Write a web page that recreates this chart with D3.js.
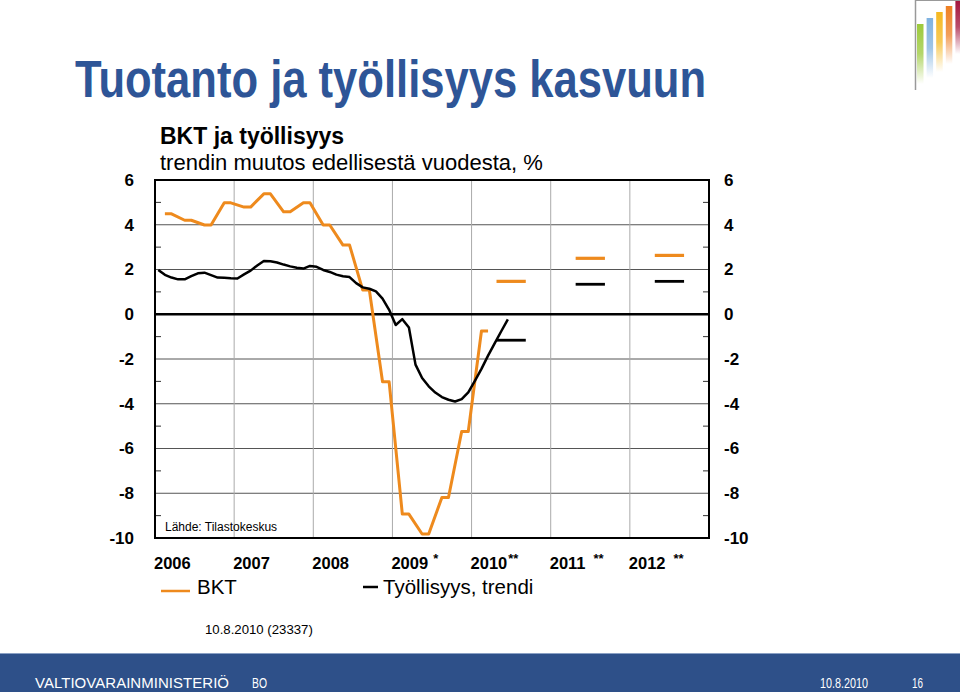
<!DOCTYPE html>
<html>
<head>
<meta charset="utf-8">
<script src="https://cdn.jsdelivr.net/npm/d3@7"></script>
<style>
  html, body { margin: 0; padding: 0; background: #fff; }
  svg { display: block; font-family: "Liberation Sans", Arial, sans-serif; }
</style>
</head>
<body>
<svg id="chart" width="960" height="692"></svg>
<script>
// ---------------- data ----------------
const yearLabels = ["2006", "2007", "2008", "2009", "2010", "2011", "2012"];
const yearMarks  = ["", "", "", "*", "**", "**", "**"];
const yTicks = [6, 4, 2, 0, -2, -4, -6, -8, -10];
const minorTicks = [5, 3, 1, -1, -3, -5, -7, -9];

// BKT (GDP), quarterly, Q1/2006 ... Q1/2010
const bktQuarterly = [4.49, 4.2, 3.99, 4.98, 4.79, 5.38, 4.58, 4.98,
                      3.99, 3.09, 1.08, -3.02, -8.93, -9.82, -8.19, -5.24, -0.75];
// Työllisyys, trendi (employment trend), monthly, 1/2006 ... 6/2010
const empMonthly = [1.98, 1.76, 1.64, 1.56, 1.56, 1.70, 1.83, 1.86, 1.75, 1.64, 1.63, 1.61,
                    1.60, 1.78, 1.95, 2.18, 2.38, 2.37, 2.31, 2.22, 2.14, 2.08, 2.04, 2.16,
                    2.12, 1.98, 1.89, 1.77, 1.70, 1.66, 1.39, 1.20, 1.14, 1.02, 0.70, 0.20,
                    -0.48, -0.22, -0.59, -2.25, -2.85, -3.22, -3.50, -3.70, -3.82, -3.90, -3.79, -3.49,
                    -2.98, -2.44, -1.85, -1.30, -0.76, -0.23];
// Forecasts (annual)
const forecastYears = [2010, 2011, 2012];
const bktForecast = [1.47, 2.5, 2.63];
const empForecast = [-1.16, 1.34, 1.47];

// ---------------- layout ----------------
const svg = d3.select("#chart");
const orange = "#ee8a1d";
const pL = 155, pR = 709, pT = 180, pB = 538;

const x = d3.scaleLinear().domain([2006, 2013]).range([pL, pR]);
const y = d3.scaleLinear().domain([6, -10]).range([pT, pB]);

// Title
svg.append("text").attr("x", 75).attr("y", 97)
  .attr("font-size", 51).attr("font-weight", "bold").attr("fill", "#2e5597")
  .attr("textLength", 631).attr("lengthAdjust", "spacingAndGlyphs")
  .text("Tuotanto ja työllisyys kasvuun");

// Chart titles
svg.append("text").attr("x", 160).attr("y", 144)
  .attr("font-size", 23).attr("font-weight", "bold").attr("fill", "#000")
  .text("BKT ja työllisyys");
svg.append("text").attr("x", 160).attr("y", 170)
  .attr("font-size", 22).attr("fill", "#000")
  .text("trendin muutos edellisestä vuodesta, %");

// Gridlines horizontal
const g = svg.append("g");
g.selectAll("line.hgrid").data(yTicks.filter(v => v !== 0 && v !== 6 && v !== -10))
  .enter().append("line").attr("class", "hgrid")
  .attr("x1", pL).attr("x2", pR)
  .attr("y1", d => y(d)).attr("y2", d => y(d))
  .attr("stroke", "#555").attr("stroke-width", 1);
// Gridlines vertical (year boundaries)
g.selectAll("line.vgrid").data(d3.range(2007, 2013))
  .enter().append("line").attr("class", "vgrid")
  .attr("x1", d => x(d)).attr("x2", d => x(d))
  .attr("y1", pT).attr("y2", pB)
  .attr("stroke", "#aaa").attr("stroke-width", 1);

// Minor ticks (inward) both sides
g.selectAll("line.tl").data(minorTicks).enter().append("line")
  .attr("x1", pL).attr("x2", pL + 6)
  .attr("y1", d => y(d)).attr("y2", d => y(d))
  .attr("stroke", "#333").attr("stroke-width", 1);
g.selectAll("line.tr").data(minorTicks).enter().append("line")
  .attr("x1", pR - 6).attr("x2", pR)
  .attr("y1", d => y(d)).attr("y2", d => y(d))
  .attr("stroke", "#333").attr("stroke-width", 1);

// Zero line
g.append("line").attr("x1", pL).attr("x2", pR)
  .attr("y1", y(0)).attr("y2", y(0))
  .attr("stroke", "#000").attr("stroke-width", 2.5);

// Frame
g.append("rect").attr("x", pL).attr("y", pT)
  .attr("width", pR - pL).attr("height", pB - pT)
  .attr("fill", "none").attr("stroke", "#000").attr("stroke-width", 2);

// Y axis labels via d3 axes
const fmt = d => String(d);
const axL = d3.axisLeft(y).tickValues(yTicks).tickFormat(fmt).tickSize(0).tickPadding(0);
const gl = svg.append("g").attr("transform", `translate(134,0)`).call(axL);
gl.select(".domain").remove();
gl.selectAll("text").attr("font-size", 17).attr("font-weight", "bold")
  .attr("font-family", "Liberation Sans, Arial, sans-serif").attr("fill", "#000");

const axR = d3.axisRight(y).tickValues(yTicks).tickFormat(fmt).tickSize(0).tickPadding(0);
const gr = svg.append("g").attr("transform", `translate(724,0)`).call(axR);
gr.select(".domain").remove();
gr.selectAll("text").attr("font-size", 17).attr("font-weight", "bold")
  .attr("font-family", "Liberation Sans, Arial, sans-serif").attr("fill", "#000");

// Source
svg.append("text").attr("x", 165).attr("y", 531)
  .attr("font-size", 12).attr("fill", "#000").text("Lähde: Tilastokeskus");

// BKT line (each quarterly value spans months 2-3 of its quarter)
const bktPts = [];
bktQuarterly.forEach((v, i) => {
  bktPts.push([2006 + (3 * i + 1.5) / 12, v]);
  bktPts.push([2006 + (3 * i + 2.5) / 12, v]);
});
const line = d3.line().x(d => x(d[0])).y(d => y(d[1]));
svg.append("path").datum(bktPts).attr("d", line)
  .attr("fill", "none").attr("stroke", orange).attr("stroke-width", 3)
  .attr("stroke-linejoin", "round");

// Employment line
const empPts = empMonthly.map((v, i) => [2006 + (i + 0.5) / 12, v]);
svg.append("path").datum(empPts).attr("d", line)
  .attr("fill", "none").attr("stroke", "#000").attr("stroke-width", 2.5)
  .attr("stroke-linejoin", "round");

// Forecast markers
const half = 0.185;
svg.selectAll("line.fb").data(forecastYears).enter().append("line")
  .attr("x1", (d) => x(d + 0.5 - half)).attr("x2", d => x(d + 0.5 + half))
  .attr("y1", (d, i) => y(bktForecast[i])).attr("y2", (d, i) => y(bktForecast[i]))
  .attr("stroke", orange).attr("stroke-width", 3.2);
svg.selectAll("line.fe").data(forecastYears).enter().append("line")
  .attr("x1", (d) => x(d + 0.5 - half)).attr("x2", d => x(d + 0.5 + half))
  .attr("y1", (d, i) => y(empForecast[i])).attr("y2", (d, i) => y(empForecast[i]))
  .attr("stroke", "#000").attr("stroke-width", 2.8);

// Year labels
const yl = svg.append("g");
yearLabels.forEach((lab, i) => {
  const t = yl.append("text").attr("x", x(2006 + i) - 1).attr("y", 569)
    .attr("font-size", 16.5).attr("font-weight", "bold").attr("fill", "#000");
  t.append("tspan").text(lab);
  if (yearMarks[i]) {
    const gap = i === 3 ? 5 : (i === 4 ? 1 : 8);
    t.append("tspan").attr("dx", gap).attr("dy", -6).attr("font-size", 13).text(yearMarks[i]);
  }
});

// Legend
svg.append("line").attr("x1", 161).attr("x2", 190).attr("y1", 591).attr("y2", 591)
  .attr("stroke", orange).attr("stroke-width", 2.5);
svg.append("text").attr("x", 197).attr("y", 594).attr("font-size", 20.5).attr("fill", "#000").text("BKT");
svg.append("line").attr("x1", 363).attr("x2", 378).attr("y1", 587).attr("y2", 587)
  .attr("stroke", "#000").attr("stroke-width", 2.5);
svg.append("text").attr("x", 383).attr("y", 594).attr("font-size", 20.5).attr("fill", "#000").text("Työllisyys, trendi");

// Date note
svg.append("text").attr("x", 205).attr("y", 634).attr("font-size", 13.2).attr("fill", "#000")
  .text("10.8.2010 (23337)");

// Footer bar
svg.append("rect").attr("x", 0).attr("y", 653).attr("width", 960).attr("height", 39).attr("fill", "#2e5089");
svg.append("line").attr("x1", 0).attr("x2", 960).attr("y1", 653.5).attr("y2", 653.5)
  .attr("stroke", "#8aa0c4").attr("stroke-width", 1);
svg.append("text").attr("x", 35).attr("y", 688).attr("font-size", 15).attr("fill", "#fff")
  .attr("textLength", 194).attr("lengthAdjust", "spacing")
  .attr("font-family", "Liberation Sans Narrow, Liberation Sans, sans-serif")
  .text("VALTIOVARAINMINISTERIÖ");
svg.append("text").attr("x", 252).attr("y", 688).attr("font-size", 14).attr("fill", "#fff")
  .attr("textLength", 15).attr("lengthAdjust", "spacingAndGlyphs").text("BO");
svg.append("text").attr("x", 820).attr("y", 688).attr("font-size", 14).attr("fill", "#fff")
  .attr("textLength", 48).attr("lengthAdjust", "spacingAndGlyphs").text("10.8.2010");
svg.append("text").attr("x", 912).attr("y", 688).attr("font-size", 15).attr("fill", "#fff")
  .attr("textLength", 11).attr("lengthAdjust", "spacingAndGlyphs").text("16");

// Logo (top right)
const logoColors = ["#9cc93b", "#7fb2e0", "#f5b820", "#ee7f22", "#a3123a"];
const logoTops = [24, 18, 12, 6, 0];
const logoBottoms = [84, 78, 72, 64, 54];
const defs = svg.append("defs");
logoColors.forEach((c, i) => {
  const grad = defs.append("linearGradient").attr("id", "lg" + i)
    .attr("x1", 0).attr("y1", 0).attr("x2", 0).attr("y2", 1);
  grad.append("stop").attr("offset", "0%").attr("stop-color", c).attr("stop-opacity", 1);
  grad.append("stop").attr("offset", "50%").attr("stop-color", c).attr("stop-opacity", 0.75);
  grad.append("stop").attr("offset", "100%").attr("stop-color", c).attr("stop-opacity", 0);
  svg.append("rect").attr("x", 917 + i * 9.6).attr("y", logoTops[i])
    .attr("width", 6.5).attr("height", logoBottoms[i] - logoTops[i])
    .attr("fill", `url(#lg${i})`);
});
svg.append("line").attr("x1", 915.5).attr("x2", 915.5).attr("y1", 0).attr("y2", 90)
  .attr("stroke", "#999").attr("stroke-width", 1.5);
svg.append("line").attr("x1", 915).attr("x2", 960).attr("y1", 0.5).attr("y2", 0.5)
  .attr("stroke", "#999").attr("stroke-width", 1);
</script>
</body>
</html>
